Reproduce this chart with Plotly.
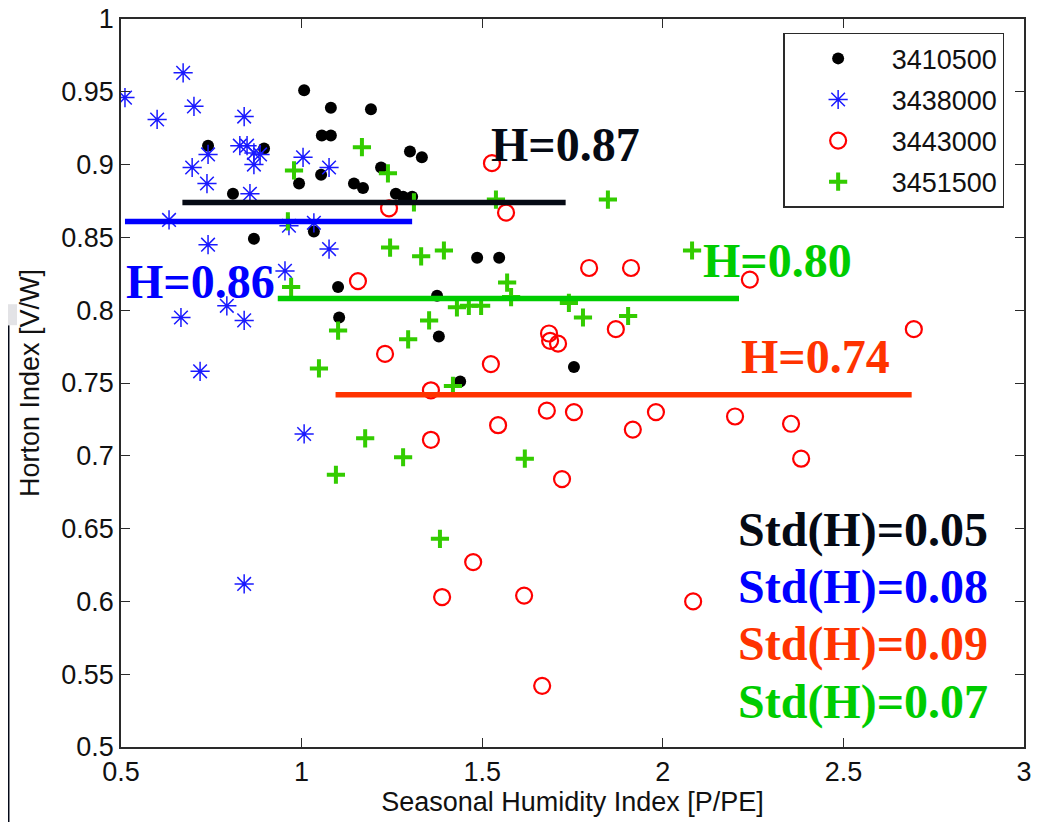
import plotly.graph_objects as go

# ---------------- data ----------------
station_names = ["3410500", "3438000", "3443000", "3451500"]

x_3410500 = [0.741, 0.896, 0.810, 0.868, 1.007, 1.081, 1.192, 1.056, 1.081, 1.054,
             0.993, 1.034, 1.145, 1.170, 1.220, 1.261, 1.300, 1.333, 1.281, 1.306,
             1.101, 1.104, 1.375, 1.380, 1.486, 1.547, 1.439, 1.754]
y_3410500 = [0.913, 0.911, 0.880, 0.849, 0.951, 0.939, 0.938, 0.920, 0.920, 0.893,
             0.887, 0.854, 0.887, 0.884, 0.898, 0.880, 0.909, 0.905, 0.878, 0.878,
             0.816, 0.795, 0.810, 0.782, 0.836, 0.836, 0.751, 0.761]

x_3438000 = [0.511, 0.672, 0.702, 0.600, 0.841, 0.829, 0.849, 0.868, 0.885, 0.868,
             0.741, 0.697, 0.738, 0.857, 1.004, 1.076, 0.633, 0.965, 1.034, 0.741,
             1.076, 0.954, 0.793, 0.666, 0.841, 0.719, 1.007, 0.841]
y_3438000 = [0.946, 0.963, 0.940, 0.931, 0.933, 0.913, 0.913, 0.908, 0.907, 0.900,
             0.907, 0.898, 0.887, 0.880, 0.905, 0.898, 0.862, 0.858, 0.860, 0.845,
             0.842, 0.827, 0.803, 0.795, 0.793, 0.758, 0.715, 0.612]

x_3443000 = [1.242, 1.156, 1.527, 1.566, 1.796, 1.912, 2.241, 1.231, 1.524, 1.358,
             1.685, 1.688, 1.710, 1.870, 2.695, 1.679, 1.754, 1.981, 1.917, 1.544,
             2.200, 2.355, 2.383, 1.358, 1.721, 1.475, 1.389, 1.616, 2.084, 1.666]
y_3443000 = [0.870, 0.820, 0.901, 0.867, 0.829, 0.829, 0.821, 0.770, 0.763, 0.745,
             0.784, 0.779, 0.777, 0.787, 0.787, 0.731, 0.730, 0.730, 0.718, 0.721,
             0.727, 0.722, 0.698, 0.711, 0.684, 0.627, 0.603, 0.604, 0.600, 0.542]

x_3451500 = [1.167, 0.979, 1.239, 0.962, 1.245, 0.971, 1.311, 1.331, 1.394, 1.538,
             1.848, 2.081, 1.569, 1.580, 1.430, 1.463, 1.497, 1.740, 1.779, 1.904,
             1.353, 1.295, 1.101, 1.048, 1.419, 1.176, 1.281, 1.095, 1.618, 1.383]
y_3451500 = [0.912, 0.896, 0.894, 0.861, 0.843, 0.816, 0.874, 0.837, 0.841, 0.876,
             0.876, 0.841, 0.819, 0.809, 0.802, 0.803, 0.803, 0.805, 0.795, 0.796,
             0.793, 0.780, 0.786, 0.760, 0.748, 0.712, 0.699, 0.687, 0.698, 0.643]

# mean Horton index per station and the span of its mean line
mean_h = [0.874, 0.861, 0.742, 0.808]
mean_line_x0 = [0.670, 0.511, 1.094, 0.934]
mean_line_x1 = [1.731, 1.306, 2.689, 2.211]
mean_labels = ["H=0.87", "H=0.86", "H=0.74", "H=0.80"]
std_labels = ["Std(H)=0.05", "Std(H)=0.08", "Std(H)=0.09", "Std(H)=0.07"]

x_ticks = [0.5, 1, 1.5, 2, 2.5, 3]
x_tick_text = ["0.5", "1", "1.5", "2", "2.5", "3"]
y_ticks = [0.5, 0.55, 0.6, 0.65, 0.7, 0.75, 0.8, 0.85, 0.9, 0.95, 1.0]
y_tick_text = ["0.5", "0.55", "0.6", "0.65", "0.7", "0.75", "0.8", "0.85", "0.9", "0.95", "1"]

# ---------------- styles ----------------
line_colors = ["#050a14", "#0000ff", "#ff3300", "#00cc00"]
text_colors = ["#050a14", "#0000ff", "#ff3300", "#00cc00"]
serif = "Liberation Serif"
sans = "Liberation Sans"

fig = go.Figure()

fig.add_trace(go.Scatter(x=x_3410500, y=y_3410500, mode="markers", name=station_names[0],
                         legendgroup=station_names[0],
                         marker=dict(symbol="circle", size=12, color="black", line=dict(width=0))))
fig.add_trace(go.Scatter(x=x_3438000, y=y_3438000, mode="markers", name=station_names[1],
                         legendgroup=station_names[1],
                         marker=dict(symbol="asterisk-open", size=16, color="#1a1aff",
                                     line=dict(width=1.5, color="#1a1aff"))))
fig.add_trace(go.Scatter(x=x_3443000, y=y_3443000, mode="markers", name=station_names[2],
                         legendgroup=station_names[2],
                         marker=dict(symbol="circle-open", size=16, color="#ff0000",
                                     line=dict(width=2.2, color="#ff0000"))))
fig.add_trace(go.Scatter(x=x_3451500, y=y_3451500, mode="markers", name=station_names[3],
                         legendgroup=station_names[3],
                         marker=dict(symbol="cross-thin-open", size=13, color="#33cc00",
                                     line=dict(width=4, color="#33cc00"))))

# mean lines
for i in range(4):
    fig.add_trace(go.Scatter(x=[mean_line_x0[i], mean_line_x1[i]], y=[mean_h[i], mean_h[i]],
                             mode="lines", showlegend=False, hoverinfo="skip",
                             line=dict(color=line_colors[i], width=5.5)))

# mean labels (positions in data coords)
mean_label_pos = [(1.731, 0.914), (0.721, 0.820), (2.424, 0.768), (2.318, 0.834)]
for i in range(4):
    fig.add_annotation(x=mean_label_pos[i][0], y=mean_label_pos[i][1], text="<b>%s</b>" % mean_labels[i],
                       showarrow=False, xanchor="center", yanchor="middle",
                       font=dict(family=serif, size=48, color=text_colors[i]))

std_y = [0.649, 0.610, 0.571, 0.531]
for i in range(4):
    fig.add_annotation(x=2.905, y=std_y[i], text="<b>%s</b>" % std_labels[i],
                       showarrow=False, xanchor="right", yanchor="middle",
                       font=dict(family=serif, size=48, color=text_colors[i]))

# background slide fragments on the left edge
fig.add_shape(type="rect", xref="paper", yref="paper", x0=-0.14, x1=-0.1235, y0=-0.12, y1=0.5794,
              fillcolor="#030817", line=dict(width=0), layer="below")
fig.add_shape(type="rect", xref="paper", yref="paper", x0=-0.14, x1=-0.1152, y0=0.5794, y1=0.6082,
              fillcolor="#e3e3e6", line=dict(width=0), layer="below")
fig.add_shape(type="path", xref="paper", yref="paper",
              path="M -0.14 -0.07 L -0.14 -0.12 L -0.1215 -0.12 Z",
              fillcolor="#ff4a12", line=dict(width=0), layer="below")

axis_common = dict(showgrid=False, zeroline=False, showline=True, linecolor="#2a2a2a", linewidth=1.5,
                   mirror="ticks", ticks="inside", ticklen=9, tickwidth=1.3, tickcolor="#2a2a2a",
                   automargin=False, ticklabeloverflow="allow",
                   tickfont=dict(family=sans, size=27, color="#111111"))

fig.update_xaxes(range=[0.5, 3], tickmode="array", tickvals=x_ticks, ticktext=x_tick_text,
                 title=dict(text="Seasonal Humidity Index [P/PE]", font=dict(family=sans, size=27, color="#111111"),
                            standoff=4),
                 **axis_common)
fig.update_yaxes(range=[0.5, 1], tickmode="array", tickvals=y_ticks, ticktext=y_tick_text,
                 title=dict(text="Horton Index [V/W]", font=dict(family=sans, size=27, color="#111111"),
                            standoff=14),
                 **axis_common)

# the page body adds an 8px offset, so the figure is 8px smaller on each leading side
fig.update_layout(
    width=1038, height=814,
    margin=dict(l=113, r=22, t=11, b=75),
    paper_bgcolor="white", plot_bgcolor="white",
    showlegend=True,
    legend=dict(x=0.978, y=0.981, xanchor="right", yanchor="top",
                bgcolor="white", bordercolor="#2a2a2a", borderwidth=1.5,
                font=dict(family=sans, size=27, color="#111111"),
                itemwidth=97, tracegroupgap=3),
)

fig.write_html("out.html")
